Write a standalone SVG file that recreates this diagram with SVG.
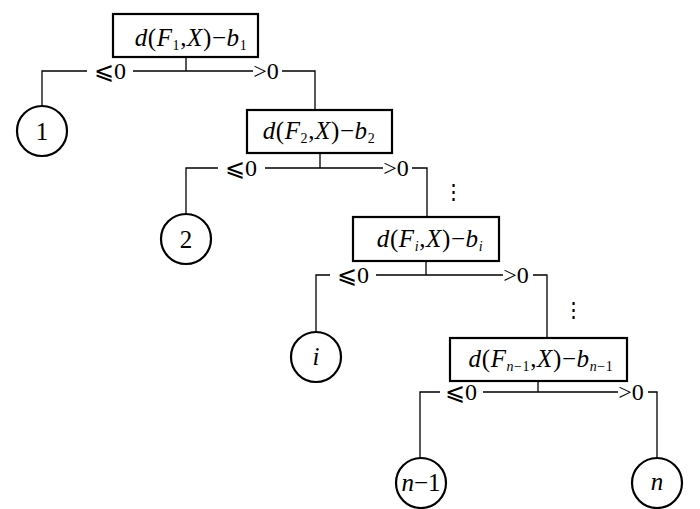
<svg xmlns="http://www.w3.org/2000/svg" width="700" height="509" viewBox="0 0 700 509">
<style>
.box{fill:#fff;stroke:#000;stroke-width:2.2}
.leaf{fill:#fff;stroke:#000;stroke-width:2.2}
.ln{fill:none;stroke:#000;stroke-width:1.3}
.t{font-family:"Liberation Serif","Times New Roman",serif;font-size:25px;fill:#000}
.bt{letter-spacing:0.6px}
.it{font-style:italic}
.sub{font-size:14px}
.lb{font-family:"Liberation Serif","DejaVu Serif",serif;font-size:24px;fill:#000}
.dots{font-family:"Liberation Serif","DejaVu Serif",serif;font-size:21px;fill:#000}
</style>
<g id="connectors">
<path class="ln" d="M186,57V71M42,107V71H87M133,71H253M282,71H315V110"/>
<path class="ln" d="M320,153V168M186,215V168H218M265,168H383M412,168H427V217"/>
<path class="ln" d="M426,261V275M316,332V275H330M376,275H503M533,275H547V338"/>
<path class="ln" d="M538,381V392M420,458V392H440M483,392H618M648,392H657V458"/>
</g>
<g id="labels">
<text class="lb" x="110" y="79" text-anchor="middle">⩽0</text>
<text class="lb" x="266" y="79" text-anchor="middle">&gt;0</text>
<text class="lb" x="241" y="176" text-anchor="middle">⩽0</text>
<text class="lb" x="396" y="176" text-anchor="middle">&gt;0</text>
<text class="lb" x="353" y="283" text-anchor="middle">⩽0</text>
<text class="lb" x="516" y="283" text-anchor="middle">&gt;0</text>
<text class="lb" x="461" y="400" text-anchor="middle">⩽0</text>
<text class="lb" x="631" y="400" text-anchor="middle">&gt;0</text>
<text class="dots" x="453" y="199" text-anchor="middle">⋮</text>
<text class="dots" x="573" y="317" text-anchor="middle">⋮</text>
</g>
<g id="node1">
<rect class="box" x="113" y="14" width="145" height="43"/>
<text class="t bt" x="191" y="46" text-anchor="middle"><tspan class="it">d</tspan>(<tspan class="it">F</tspan><tspan class="sub" dy="4">1</tspan><tspan dy="-4">,</tspan><tspan class="it">X</tspan>)−<tspan class="it">b</tspan><tspan class="sub" dy="4">1</tspan></text>
</g>
<g id="node2">
<rect class="box" x="247" y="110" width="145" height="43"/>
<text class="t bt" x="319" y="139" text-anchor="middle"><tspan class="it">d</tspan>(<tspan class="it">F</tspan><tspan class="sub" dy="4">2</tspan><tspan dy="-4">,</tspan><tspan class="it">X</tspan>)−<tspan class="it">b</tspan><tspan class="sub" dy="4">2</tspan></text>
</g>
<g id="nodei">
<rect class="box" x="353" y="217" width="146" height="44"/>
<text class="t bt" x="430" y="247" text-anchor="middle"><tspan class="it">d</tspan>(<tspan class="it">F</tspan><tspan class="sub it" dy="4">i</tspan><tspan dy="-4">,</tspan><tspan class="it">X</tspan>)−<tspan class="it">b</tspan><tspan class="sub it" dy="4">i</tspan></text>
</g>
<g id="noden1">
<rect class="box" x="450" y="338" width="177" height="43"/>
<text class="t bt" x="541" y="367" text-anchor="middle"><tspan class="it">d</tspan>(<tspan class="it">F</tspan><tspan class="sub" dy="4"><tspan class="it">n</tspan>−1</tspan><tspan dy="-4">,</tspan><tspan class="it">X</tspan>)−<tspan class="it">b</tspan><tspan class="sub" dy="4"><tspan class="it">n</tspan>−1</tspan></text>
</g>
<g id="leaf1">
<circle class="leaf" cx="42" cy="131" r="25"/>
<text class="t" x="42" y="140" text-anchor="middle" font-size="26">1</text>
</g>
<g id="leaf2">
<circle class="leaf" cx="186" cy="239" r="25"/>
<text class="t" x="186" y="248" text-anchor="middle" font-size="26">2</text>
</g>
<g id="leafi">
<circle class="leaf" cx="316" cy="357" r="25"/>
<text class="t it" x="316" y="365" text-anchor="middle" font-size="26">i</text>
</g>
<g id="leafn1">
<circle class="leaf" cx="421" cy="483" r="25"/>
<text class="t" x="421" y="491" text-anchor="middle" font-size="25"><tspan class="it">n</tspan>−1</text>
</g>
<g id="leafn">
<circle class="leaf" cx="657" cy="483" r="25"/>
<text class="t it" x="657" y="490" text-anchor="middle" font-size="26">n</text>
</g>
</svg>
